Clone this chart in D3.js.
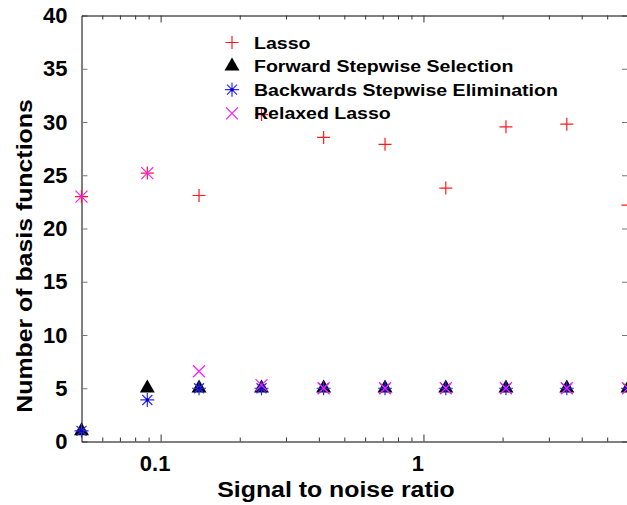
<!DOCTYPE html>
<html>
<head>
<meta charset="utf-8">
<script src="https://cdn.jsdelivr.net/npm/d3@7"></script>
<style>
    body { margin: 0; background: #fff; }
    text { font-family: "Liberation Sans", Arial, sans-serif; font-weight: bold; fill: #000; }
</style>
</head>
<body>
<svg id="chart"></svg>
<script>
// signal to noise ratios (log x) and number of basis functions per method
const snr = [0.05, 0.089, 0.14, 0.242, 0.417, 0.714, 1.216, 2.06, 3.51, 6.0];
const lasso = [23.0, 25.2, 23.1, 30.7, 28.55, 27.9, 23.8, 29.55, 29.8, 22.2];
const forwardStepwise = [1, 5, 5, 5, 5, 5, 5, 5, 5, 5];
const backwardsStepwise = [1, 3.9, 5, 5, 5, 5, 5, 5, 5, 5];
const relaxedLasso = [23.0, 25.2, 6.6, 5.3, 5, 5, 5, 5, 5, 5];

const seriesNames = ["Lasso", "Forward Stepwise Selection", "Backwards Stepwise Elimination", "Relaxed Lasso"];
const yTicks = [0, 5, 10, 15, 20, 25, 30, 35, 40];
const xMajorTicks = [0.1, 1];
const xMinorTicks = [0.06, 0.07, 0.08, 0.09, 0.2, 0.3, 0.4, 0.5, 0.6, 0.7, 0.8, 0.9, 2, 3, 4, 5, 6];

const WIDTH = 627, HEIGHT = 505;
const plot = {left: 81.5, right: 628, top: 15.5, bottom: 441.5};
const TEXT_STRETCH = 1.13;

const svg = d3.select("#chart").attr("width", WIDTH).attr("height", HEIGHT);

const x = d3.scaleLog().domain([0.05, 6]).range([plot.left, plot.right]);
const y = d3.scaleLinear().domain([0, 40]).range([plot.bottom, plot.top]);

// marker shapes (gnuplot style point types)
function plusPath(r) { return `M${-r},0H${r}M0,${-r}V${r}`; }
function crossPath(r) { return `M${-r},${-r}L${r},${r}M${-r},${r}L${r},${-r}`; }
const trianglePath = d3.symbol(d3.symbolTriangle, 97)();

function drawMarker(g, type) {
    if (type === 0) {
        g.append("path").attr("d", plusPath(6.5)).attr("stroke", "#ff1a1a").attr("stroke-width", 1.2).attr("fill", "none");
    } else if (type === 1) {
        g.append("path").attr("d", trianglePath).attr("fill", "#000");
    } else if (type === 2) {
        g.append("path").attr("d", plusPath(7) + crossPath(5)).attr("stroke", "#2a2aff").attr("stroke-width", 1.2).attr("fill", "none");
        g.append("circle").attr("r", 1.6).attr("fill", "#0000cc");
    } else {
        g.append("path").attr("d", crossPath(6)).attr("stroke", "#ff1aff").attr("stroke-width", 1.2).attr("fill", "none");
    }
}

// axes
const leftAxis = svg.append("g")
    .attr("transform", `translate(${plot.left},0)`)
    .call(d3.axisLeft(y).tickValues(yTicks).tickSize(-6).tickPadding(14).tickSizeOuter(0));
leftAxis.select(".domain").attr("stroke", "#000");
leftAxis.selectAll(".tick line").attr("stroke", "#777");
leftAxis.selectAll(".tick text").attr("font-size", 22).attr("font-family", null);

const rightAxis = svg.append("g")
    .attr("transform", `translate(${plot.right},0)`)
    .call(d3.axisRight(y).tickValues(yTicks).tickSize(-6).tickFormat("").tickSizeOuter(0));
rightAxis.selectAll(".tick line").attr("stroke", "#777");

const bottomAxis = svg.append("g")
    .attr("transform", `translate(0,${plot.bottom})`)
    .call(d3.axisBottom(x).tickValues(xMajorTicks).tickSize(-7).tickPadding(14).tickSizeOuter(0).tickFormat(d => d));
bottomAxis.select(".domain").attr("stroke", "#000");
bottomAxis.selectAll(".tick line").attr("stroke", "#333");
bottomAxis.selectAll(".tick text").attr("font-size", 22).attr("font-family", null).attr("dx", -6);

const bottomMinor = svg.append("g")
    .attr("transform", `translate(0,${plot.bottom})`)
    .call(d3.axisBottom(x).tickValues(xMinorTicks).tickSize(-4).tickFormat(""));
bottomMinor.select(".domain").remove();
bottomMinor.selectAll(".tick line").attr("stroke", "#333");

const topAxis = svg.append("g")
    .attr("transform", `translate(0,${plot.top})`)
    .call(d3.axisTop(x).tickValues(xMajorTicks).tickSize(-7).tickFormat("").tickSizeOuter(0));
topAxis.select(".domain").attr("stroke", "#000");
topAxis.selectAll(".tick line").attr("stroke", "#333");

const topMinor = svg.append("g")
    .attr("transform", `translate(0,${plot.top})`)
    .call(d3.axisTop(x).tickValues(xMinorTicks).tickSize(-4).tickFormat(""));
topMinor.select(".domain").remove();
topMinor.selectAll(".tick line").attr("stroke", "#333");

// axis titles
svg.append("text")
    .attr("transform", `translate(336,497) scale(${TEXT_STRETCH},1)`)
    .attr("text-anchor", "middle")
    .attr("font-size", 22)
    .text("Signal to noise ratio");

svg.append("text")
    .attr("transform", `translate(32,256) rotate(-90) scale(${TEXT_STRETCH},1)`)
    .attr("text-anchor", "middle")
    .attr("font-size", 22)
    .text("Number of basis functions");

// points
const allSeries = [lasso, forwardStepwise, backwardsStepwise, relaxedLasso];
const pointLayer = svg.append("g");
allSeries.forEach((values, k) => {
    pointLayer.append("g").selectAll("g")
        .data(values)
        .enter()
        .append("g")
        .attr("transform", (d, i) => `translate(${x(snr[i])},${y(d)})`)
        .each(function () { drawMarker(d3.select(this), k); });
});

// legend
const legend = svg.append("g");
seriesNames.forEach((name, k) => {
    const rowY = 42.5 + k * 23.6;
    drawMarker(legend.append("g").attr("transform", `translate(232,${rowY})`), k);
    legend.append("text")
        .attr("transform", `translate(254,${rowY + 6}) scale(1.15,1)`)
        .attr("font-size", 17)
        .text(name);
});
</script>
</body>
</html>
